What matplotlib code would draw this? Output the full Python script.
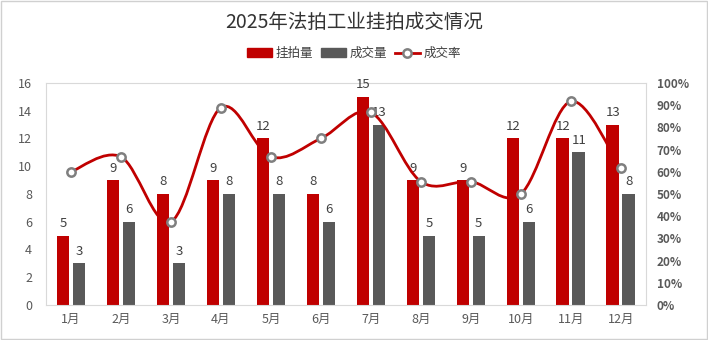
import numpy as np
import matplotlib.pyplot as plt
from matplotlib.path import Path
from matplotlib.patches import PathPatch, Rectangle
from matplotlib.lines import Line2D
from matplotlib.ticker import PercentFormatter

plt.rcParams['font.family'] = ['Noto Sans CJK SC', 'DejaVu Sans']

months = ['1月', '2月', '3月', '4月', '5月', '6月', '7月', '8月', '9月', '10月', '11月', '12月']
listed = [5, 9, 8, 9, 12, 8, 15, 9, 9, 12, 12, 13]
sold = [3, 6, 3, 8, 8, 6, 13, 5, 5, 6, 11, 8]
rate = [0.60, 0.667, 0.375, 0.889, 0.667, 0.75, 0.867, 0.556, 0.556, 0.50, 0.917, 0.615]

red = '#C00000'
gray = '#595959'
txt = '#404040'

fig = plt.figure(figsize=(7.08, 3.40), dpi=100)
fig.patches.append(Rectangle((0.001, 0.002), 0.997, 0.995, transform=fig.transFigure,
                             fill=False, edgecolor='#D0D0D0', linewidth=1))
ax = fig.add_axes([0.065, 0.103, 0.847, 0.653])
x = np.arange(len(months))
w = 0.25
b1 = ax.bar(x - 0.16, listed, w, color=red, zorder=2)
b2 = ax.bar(x + 0.16, sold, w, color=gray, zorder=2)
for rect, v in zip(b1, listed):
    ax.text(rect.get_x() + rect.get_width() / 2, v + 0.4, str(v), ha='center', va='bottom',
            fontsize=9.5, color=txt, zorder=5)
for rect, v in zip(b2, sold):
    ax.text(rect.get_x() + rect.get_width() / 2, v + 0.4, str(v), ha='center', va='bottom',
            fontsize=9.5, color=txt, zorder=5)

ax.set_xlim(-0.5, len(months) - 0.5)
ax.set_ylim(0, 16)
ax.set_yticks(range(0, 17, 2))
ax.set_xticks(x)
ax.set_xticklabels(months)
ax.tick_params(length=0, labelsize=9, colors=gray, pad=6)
ax.tick_params(axis='y', pad=10)
for s in ax.spines.values():
    s.set_color('#D9D9D9')

ax2 = ax.twinx()
ax2.set_ylim(0, 1)
ax2.set_yticks(np.arange(0, 1.01, 0.1))
ax2.yaxis.set_major_formatter(PercentFormatter(1.0, decimals=0))
ax2.tick_params(length=0, labelsize=8.5, colors=gray, pad=8)
for lab in ax2.get_yticklabels():
    lab.set_fontweight('bold')
for s in ax2.spines.values():
    s.set_visible(False)

# smooth curve (Catmull-Rom as cubic Bezier, like Excel's smoothed line)
pts = np.column_stack([x, rate]).astype(float)
verts = [tuple(pts[0])]
codes = [Path.MOVETO]
n = len(pts)
for i in range(n - 1):
    p0 = pts[i - 1] if i > 0 else pts[i]
    p1 = pts[i]
    p2 = pts[i + 1]
    p3 = pts[i + 2] if i + 2 < n else pts[i + 1]
    c1 = p1 + (p2 - p0) / 6
    c2 = p2 - (p3 - p1) / 6
    verts += [tuple(c1), tuple(c2), tuple(p2)]
    codes += [Path.CURVE4] * 3
ax2.add_patch(PathPatch(Path(verts, codes), fill=False, edgecolor=red, linewidth=2, zorder=3))
ax2.plot(x, rate, linestyle='none', marker='o', markersize=6, markerfacecolor='white',
         markeredgecolor='#7F7F7F', markeredgewidth=1.8, zorder=4)

fig.text(0.5, 0.935, '2025年法拍工业挂拍成交情况', ha='center', va='center', fontsize=14, color='#333333')
handles = [Rectangle((0, 0), 1, 1, color=red), Rectangle((0, 0), 1, 1, color=gray),
           Line2D([], [], color=red, linewidth=2, marker='o', markersize=6,
                  markerfacecolor='white', markeredgecolor='#7F7F7F', markeredgewidth=1.8)]
fig.legend(handles, ['挂拍量', '成交量', '成交率'], loc='center', bbox_to_anchor=(0.5, 0.843),
           ncol=3, frameon=False, fontsize=9, handlelength=2.0, handleheight=0.7,
           handletextpad=0.3, columnspacing=0.6, labelcolor=txt)

fig.savefig('out.png', dpi=100)
